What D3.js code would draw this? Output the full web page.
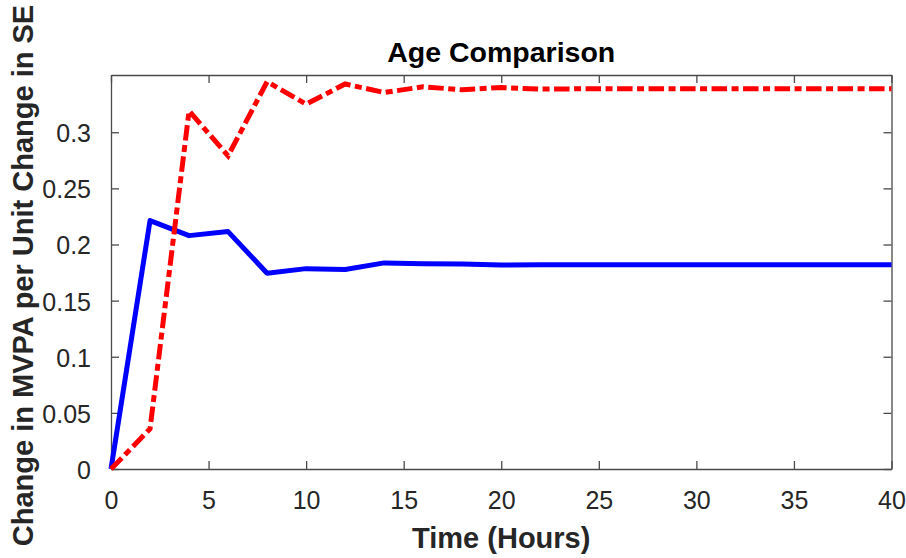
<!DOCTYPE html>
<html>
<head>
<meta charset="utf-8">
<script src="https://cdn.jsdelivr.net/npm/d3@7"></script>
<style>
	body { margin: 0; background: #fff; }
	text { font-family: "Liberation Sans", Arial, sans-serif; }
</style>
</head>
<body>
<div id="chart"></div>
<script>
// hours, every 2 h
var hours = [0, 2, 4, 6, 8, 10, 12, 14, 16, 18, 20, 22, 24, 26, 28, 30, 32, 34, 36, 38, 40]
// solid blue series
var blueValues = [0, 0.2213, 0.2079, 0.2115, 0.1744, 0.1785, 0.1777, 0.1836, 0.1828, 0.1826, 0.1818, 0.1820, 0.1820, 0.1820, 0.1820, 0.1820, 0.1820, 0.1820, 0.1820, 0.1820, 0.1820]
// dash-dot red series
var redValues = [0, 0.0357, 0.319, 0.279, 0.345, 0.325, 0.343, 0.3354, 0.3405, 0.3378, 0.3399, 0.3384, 0.3387, 0.3387, 0.3387, 0.3387, 0.3387, 0.3387, 0.3387, 0.3387, 0.3387]
var xTicks = [0, 5, 10, 15, 20, 25, 30, 35, 40]
var yTicks = [0, 0.05, 0.1, 0.15, 0.2, 0.25, 0.3]

var width = 906
var height = 558
var margin = {top: 75, right: 14.5, bottom: 89, left: 111}
var innerW = width - margin.left - margin.right
var innerH = height - margin.top - margin.bottom
var axisColor = "#4a4a4a"
var tickLen = 8

var svg = d3.select("#chart").append("svg")
	.attr("width", width)
	.attr("height", height)

var x = d3.scaleLinear().domain([0, 40]).range([margin.left, margin.left + innerW])
var y = d3.scaleLinear().domain([0, 0.351]).range([margin.top + innerH, margin.top])

// axes: bottom/left with labels, top/right ticks only
var xAxis = svg.append("g")
	.attr("transform", "translate(0," + (margin.top + innerH) + ")")
	.call(d3.axisBottom(x).tickValues(xTicks).tickSizeInner(-tickLen).tickSizeOuter(0).tickPadding(tickLen + 14))
var yAxis = svg.append("g")
	.attr("transform", "translate(" + margin.left + ",0)")
	.call(d3.axisLeft(y).tickValues(yTicks).tickSizeInner(-tickLen).tickSizeOuter(0).tickPadding(tickLen + 12).tickFormat(d3.format("~g")))
svg.append("g")
	.attr("transform", "translate(0," + margin.top + ")")
	.call(d3.axisTop(x).tickValues(xTicks).tickSizeInner(-tickLen).tickSizeOuter(0).tickFormat(""))
svg.append("g")
	.attr("transform", "translate(" + (margin.left + innerW) + ",0)")
	.call(d3.axisRight(y).tickValues(yTicks).tickSizeInner(-tickLen).tickSizeOuter(0).tickFormat(""))

svg.selectAll(".domain").attr("stroke", axisColor).attr("stroke-width", 1.3)
svg.selectAll(".tick line").attr("stroke", axisColor).attr("stroke-width", 1.3)
svg.selectAll(".tick text")
	.attr("fill", "#262626")
	.style("font-size", "25px")
	.style("font-family", "'Liberation Sans', Arial, sans-serif")
xAxis.selectAll(".tick text").attr("dy", "0.71em")
yAxis.selectAll(".tick text").attr("dy", "0.38em")

var line = d3.line()
	.x(function(d, i) { return x(hours[i]) })
	.y(function(d) { return y(d) })

svg.append("path")
	.datum(blueValues)
	.attr("fill", "none")
	.attr("stroke", "#0000ff")
	.attr("stroke-width", 5)
	.attr("stroke-linejoin", "round")
	.attr("d", line)

svg.append("path")
	.datum(redValues)
	.attr("fill", "none")
	.attr("stroke", "#ff0000")
	.attr("stroke-width", 5)
	.attr("stroke-dasharray", "15.5,4.5,7,4.5")
	.attr("d", line)

// title and labels
svg.append("text")
	.attr("x", margin.left + innerW / 2)
	.attr("y", 62)
	.attr("text-anchor", "middle")
	.style("font-size", "28.5px")
	.style("font-weight", "bold")
	.attr("fill", "#000")
	.text("Age Comparison")

svg.append("text")
	.attr("x", margin.left + innerW / 2)
	.attr("y", 548)
	.attr("text-anchor", "middle")
	.style("font-size", "29px")
	.style("font-weight", "bold")
	.attr("fill", "#262626")
	.text("Time (Hours)")

svg.append("text")
	.attr("transform", "translate(33,275.5) rotate(-90)")
	.attr("text-anchor", "middle")
	.style("font-size", "29px")
	.style("font-weight", "bold")
	.attr("fill", "#262626")
	.text("Change in MVPA per Unit Change in SE")
</script>
</body>
</html>
